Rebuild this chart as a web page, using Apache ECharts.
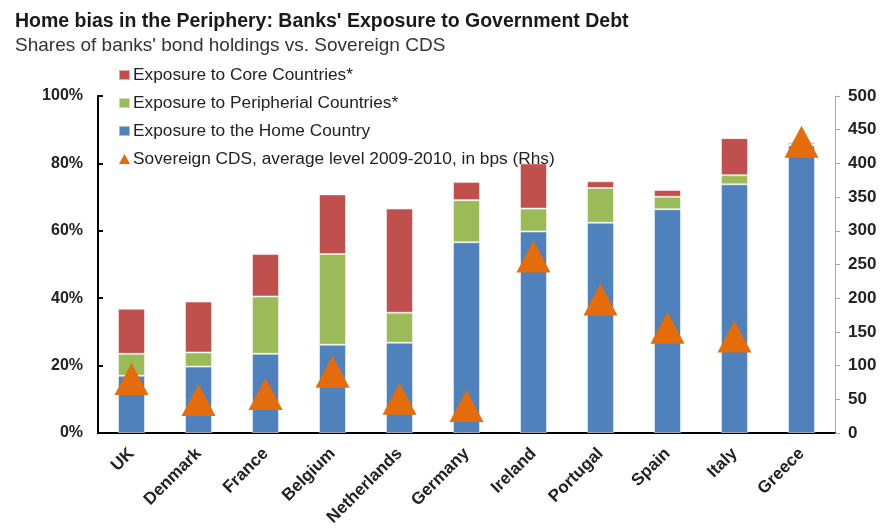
<!DOCTYPE html>
<html>
<head>
<meta charset="utf-8">
<script src="https://cdn.jsdelivr.net/npm/echarts@6/dist/echarts.min.js"></script>
<style>
  html, body { margin: 0; padding: 0; background: #fff; }
  #main { width: 882px; height: 529px; }
</style>
</head>
<body>
<div id="main"></div>
<script>
var countries = ["UK", "Denmark", "France", "Belgium", "Netherlands", "Germany", "Ireland", "Portugal", "Spain", "Italy", "Greece"];
// shares of bond holdings, %
var homeShare = [17.0, 19.7, 23.5, 26.2, 26.8, 56.6, 59.8, 62.4, 66.4, 73.8, 85.3];
var periphShare = [6.5, 4.2, 17.0, 26.9, 8.9, 12.5, 6.8, 10.3, 3.7, 2.7, 0.4];
var coreShare = [13.4, 15.1, 12.6, 17.7, 30.9, 5.4, 13.4, 2.0, 2.0, 11.0, 0.6];
// sovereign CDS, bps (right axis)
var cdsLevel = [80, 49, 58, 91, 51, 40, 262, 198, 156, 143, 432];

var legendNames = [
  "Exposure to Core Countries*",
  "Exposure to Peripherial Countries*",
  "Exposure to the Home Country",
  "Sovereign CDS, average level 2009-2010, in bps (Rhs)"
];

var chart = echarts.init(document.getElementById("main"));

var barBorder = {
  borderColor: "rgba(255,255,255,0.5)",
  borderWidth: 1
};

var option = {
  animation: false,
  textStyle: { fontFamily: "Liberation Sans, Arial, sans-serif" },
  title: [
    {
      text: "Home bias in the Periphery: Banks' Exposure to Government Debt",
      left: 10,
      top: 7,
      textStyle: { fontSize: 19.5, fontWeight: "bold", color: "#1a1a1a" }
    },
    {
      text: "Shares of banks' bond holdings vs. Sovereign CDS",
      left: 10,
      top: 31,
      textStyle: { fontSize: 19, fontWeight: "normal", color: "#333" }
    }
  ],
  legend: {
    orient: "vertical",
    left: 118,
    top: 66,
    padding: 0,
    itemWidth: 11,
    itemHeight: 10,
    itemGap: 10,
    data: [
      { name: legendNames[0], icon: "rect" },
      { name: legendNames[1], icon: "rect" },
      { name: legendNames[2], icon: "rect" },
      { name: legendNames[3], icon: "triangle" }
    ],
    textStyle: { fontSize: 17.3, color: "#222", lineHeight: 18, padding: [0, 0, 0, -2] }
  },
  grid: {
    left: 98,
    right: 47,
    top: 96,
    bottom: 96
  },
  xAxis: {
    type: "category",
    data: countries,
    axisLine: { lineStyle: { color: "#000", width: 2 } },
    axisTick: { inside: true, length: 5, lineStyle: { color: "#000", width: 2 } },
    axisLabel: {
      rotate: 45,
      margin: 18,
      fontSize: 17,
      fontWeight: "bold",
      color: "#222"
    }
  },
  yAxis: [
    {
      type: "value",
      min: 0,
      max: 100,
      interval: 20,
      position: "left",
      splitLine: { show: false },
      axisLine: { show: true, lineStyle: { color: "#000", width: 2 } },
      axisTick: { show: true, inside: true, length: 5, lineStyle: { color: "#000", width: 2 } },
      axisLabel: {
        formatter: "{value}%",
        fontSize: 16,
        fontWeight: "bold",
        color: "#222",
        margin: 15
      }
    },
    {
      type: "value",
      min: 0,
      max: 500,
      interval: 50,
      position: "right",
      splitLine: { show: false },
      axisLine: { show: true, lineStyle: { color: "#aaa", width: 1 } },
      axisTick: { show: true, length: 5, lineStyle: { color: "#aaa" } },
      axisLabel: {
        fontSize: 17,
        fontWeight: "bold",
        color: "#222",
        margin: 13
      }
    }
  ],
  series: [
    {
      name: legendNames[2],
      type: "bar",
      stack: "exp",
      barWidth: 27,
      data: homeShare,
      itemStyle: Object.assign({ color: "#4F81BD" }, barBorder)
    },
    {
      name: legendNames[1],
      type: "bar",
      stack: "exp",
      barWidth: 27,
      data: periphShare,
      itemStyle: Object.assign({ color: "#9BBB59" }, barBorder)
    },
    {
      name: legendNames[0],
      type: "bar",
      stack: "exp",
      barWidth: 27,
      data: coreShare,
      itemStyle: Object.assign({ color: "#C0504D" }, barBorder)
    },
    {
      name: legendNames[3],
      type: "scatter",
      yAxisIndex: 1,
      symbol: "triangle",
      symbolSize: [34, 32],
      z: 3,
      data: cdsLevel,
      itemStyle: { color: "#E46C0A", opacity: 1 }
    }
  ]
};

chart.setOption(option);
</script>
</body>
</html>
